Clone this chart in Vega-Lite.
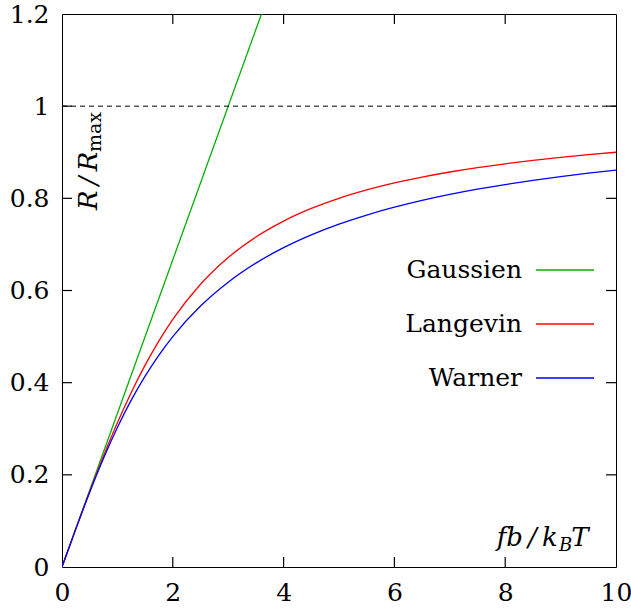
{
  "$schema": "https://vega.github.io/schema/vega-lite/v6.json",
  "width": 554,
  "height": 553,
  "autosize": "none",
  "padding": {"left": 62, "top": 14, "right": 15, "bottom": 41},
  "background": "white",
  "config": {
    "font": "DejaVu Serif",
    "view": {"stroke": "black", "strokeWidth": 1},
    "axis": {
      "domain": false,
      "grid": false,
      "ticks": false,
      "labelFontSize": 25,
      "labelColor": "black",
      "labelFont": "DejaVu Serif",
      "labelFlush": false,
      "labelOverlap": false,
      "labelPadding": 13,
      "title": null
    }
  },
  "datasets": {
    "xticks": [{"v": 2}, {"v": 4}, {"v": 6}, {"v": 8}],
    "yticks": [{"v": 0.2}, {"v": 0.4}, {"v": 0.6}, {"v": 0.8}, {"v": 1}],
    "curves": [
      {"model": "Gaussien", "x": 0, "y": 0},
      {"model": "Gaussien", "x": 3.6, "y": 1.2},
      {"model": "Langevin", "x": 0, "y": 0},
      {"model": "Langevin", "x": 0.25, "y": 0.082988},
      {"model": "Langevin", "x": 0.5, "y": 0.163953},
      {"model": "Langevin", "x": 0.75, "y": 0.241104},
      {"model": "Langevin", "x": 1, "y": 0.313035},
      {"model": "Langevin", "x": 1.25, "y": 0.378851},
      {"model": "Langevin", "x": 1.5, "y": 0.438124},
      {"model": "Langevin", "x": 1.75, "y": 0.490846},
      {"model": "Langevin", "x": 2, "y": 0.537315},
      {"model": "Langevin", "x": 2.5, "y": 0.613567},
      {"model": "Langevin", "x": 3, "y": 0.671637},
      {"model": "Langevin", "x": 3.5, "y": 0.716111},
      {"model": "Langevin", "x": 4, "y": 0.750671},
      {"model": "Langevin", "x": 4.5, "y": 0.778025},
      {"model": "Langevin", "x": 5, "y": 0.800091},
      {"model": "Langevin", "x": 5.5, "y": 0.818215},
      {"model": "Langevin", "x": 6, "y": 0.833346},
      {"model": "Langevin", "x": 6.5, "y": 0.846158},
      {"model": "Langevin", "x": 7, "y": 0.857145},
      {"model": "Langevin", "x": 7.5, "y": 0.866667},
      {"model": "Langevin", "x": 8, "y": 0.875},
      {"model": "Langevin", "x": 8.5, "y": 0.882353},
      {"model": "Langevin", "x": 9, "y": 0.888889},
      {"model": "Langevin", "x": 9.5, "y": 0.894737},
      {"model": "Langevin", "x": 10, "y": 0.9},
      {"model": "Warner", "x": 0, "y": 0},
      {"model": "Warner", "x": 0.25, "y": 0.082763},
      {"model": "Warner", "x": 0.5, "y": 0.162278},
      {"model": "Warner", "x": 0.75, "y": 0.236068},
      {"model": "Warner", "x": 1, "y": 0.302776},
      {"model": "Warner", "x": 1.25, "y": 0.36205},
      {"model": "Warner", "x": 1.5, "y": 0.414214},
      {"model": "Warner", "x": 1.75, "y": 0.459935},
      {"model": "Warner", "x": 2, "y": 0.5},
      {"model": "Warner", "x": 2.5, "y": 0.56619},
      {"model": "Warner", "x": 3, "y": 0.618034},
      {"model": "Warner", "x": 3.5, "y": 0.659396},
      {"model": "Warner", "x": 4, "y": 0.693},
      {"model": "Warner", "x": 4.5, "y": 0.720759},
      {"model": "Warner", "x": 5, "y": 0.744031},
      {"model": "Warner", "x": 5.5, "y": 0.763796},
      {"model": "Warner", "x": 6, "y": 0.780776},
      {"model": "Warner", "x": 6.5, "y": 0.795513},
      {"model": "Warner", "x": 7, "y": 0.808416},
      {"model": "Warner", "x": 7.5, "y": 0.819804},
      {"model": "Warner", "x": 8, "y": 0.829926},
      {"model": "Warner", "x": 8.5, "y": 0.838981},
      {"model": "Warner", "x": 9, "y": 0.847127},
      {"model": "Warner", "x": 9.5, "y": 0.854494},
      {"model": "Warner", "x": 10, "y": 0.861187}
    ]
  },
  "layer": [
    {
      "data": {"name": "curves"},
      "mark": {"type": "line", "strokeWidth": 1.3, "interpolate": "monotone", "clip": true},
      "encoding": {
        "x": {
          "field": "x", "type": "quantitative",
          "scale": {"domain": [0, 10], "nice": false, "zero": false},
          "axis": {"orient": "bottom", "values": [0, 2, 4, 6, 8, 10], "format": "~f"}
        },
        "y": {
          "field": "y", "type": "quantitative",
          "scale": {"domain": [0, 1.2], "nice": false, "zero": false},
          "axis": {"orient": "left", "values": [0, 0.2, 0.4, 0.6, 0.8, 1, 1.2], "format": "~f"}
        },
        "color": {
          "field": "model", "type": "nominal",
          "scale": {"domain": ["Gaussien", "Langevin", "Warner"], "range": ["#00b000", "#ff0000", "#0000ff"]},
          "legend": {
            "orient": "none", "legendX": 473, "legendY": 226,
            "direction": "vertical",
            "symbolType": "stroke", "symbolSize": 3364, "symbolStrokeWidth": 1.3,
            "labelAlign": "right", "labelOffset": -73,
            "labelFontSize": 25, "labelFont": "DejaVu Serif", "labelColor": "black",
            "labelLimit": 400, "title": null, "padding": 0, "rowPadding": 11
          }
        }
      }
    },
    {
      "data": {"name": "xticks"},
      "mark": {"type": "rule", "color": "black", "strokeWidth": 1.2},
      "encoding": {
        "x": {"field": "v", "type": "quantitative"},
        "y": {"datum": 0, "type": "quantitative"},
        "y2": {"datum": 0.0217}
      }
    },
    {
      "data": {"name": "xticks"},
      "mark": {"type": "rule", "color": "black", "strokeWidth": 1.2},
      "encoding": {
        "x": {"field": "v", "type": "quantitative"},
        "y": {"datum": 1.2, "type": "quantitative"},
        "y2": {"datum": 1.1783}
      }
    },
    {
      "data": {"name": "yticks"},
      "mark": {"type": "rule", "color": "black", "strokeWidth": 1.2},
      "encoding": {
        "y": {"field": "v", "type": "quantitative"},
        "x": {"datum": 0, "type": "quantitative"},
        "x2": {"datum": 0.18}
      }
    },
    {
      "data": {"name": "yticks"},
      "mark": {"type": "rule", "color": "black", "strokeWidth": 1.2},
      "encoding": {
        "y": {"field": "v", "type": "quantitative"},
        "x": {"datum": 10, "type": "quantitative"},
        "x2": {"datum": 9.82}
      }
    },
    {
      "data": {"values": [{}]},
      "mark": {"type": "rule", "strokeDash": [5, 4], "color": "black", "strokeWidth": 1},
      "encoding": {
        "y": {"datum": 1, "type": "quantitative"}
      }
    },
    {
      "data": {"values": [{}]},
      "mark": {"type": "text", "font": "DejaVu Serif", "fontStyle": "italic", "fontSize": 26, "align": "right", "baseline": "alphabetic", "color": "black"},
      "encoding": {
        "x": {"datum": 8.95, "type": "quantitative"},
        "y": {"datum": 0.0456, "type": "quantitative"},
        "text": {"value": "fb\u2009/\u2009k"}
      }
    },
    {
      "data": {"values": [{}]},
      "mark": {"type": "text", "font": "DejaVu Serif", "fontStyle": "italic", "fontSize": 18, "align": "left", "baseline": "alphabetic", "color": "black"},
      "encoding": {
        "x": {"datum": 8.97, "type": "quantitative"},
        "y": {"datum": 0.0347, "type": "quantitative"},
        "text": {"value": "B"}
      }
    },
    {
      "data": {"values": [{}]},
      "mark": {"type": "text", "font": "DejaVu Serif", "fontStyle": "italic", "fontSize": 26, "align": "left", "baseline": "alphabetic", "color": "black"},
      "encoding": {
        "x": {"datum": 9.19, "type": "quantitative"},
        "y": {"datum": 0.0456, "type": "quantitative"},
        "text": {"value": "T"}
      }
    },
    {
      "data": {"values": [{}]},
      "mark": {"type": "text", "font": "DejaVu Serif", "fontStyle": "italic", "fontSize": 26, "align": "left", "baseline": "alphabetic", "angle": 270, "color": "black"},
      "encoding": {
        "x": {"datum": 0.632, "type": "quantitative"},
        "y": {"datum": 0.7747, "type": "quantitative"},
        "text": {"value": "R\u2009/\u2009R"}
      }
    },
    {
      "data": {"values": [{}]},
      "mark": {"type": "text", "font": "DejaVu Serif", "fontSize": 19, "align": "left", "baseline": "alphabetic", "angle": 270, "color": "black"},
      "encoding": {
        "x": {"datum": 0.704, "type": "quantitative"},
        "y": {"datum": 0.9006, "type": "quantitative"},
        "text": {"value": "max"}
      }
    }
  ]
}
